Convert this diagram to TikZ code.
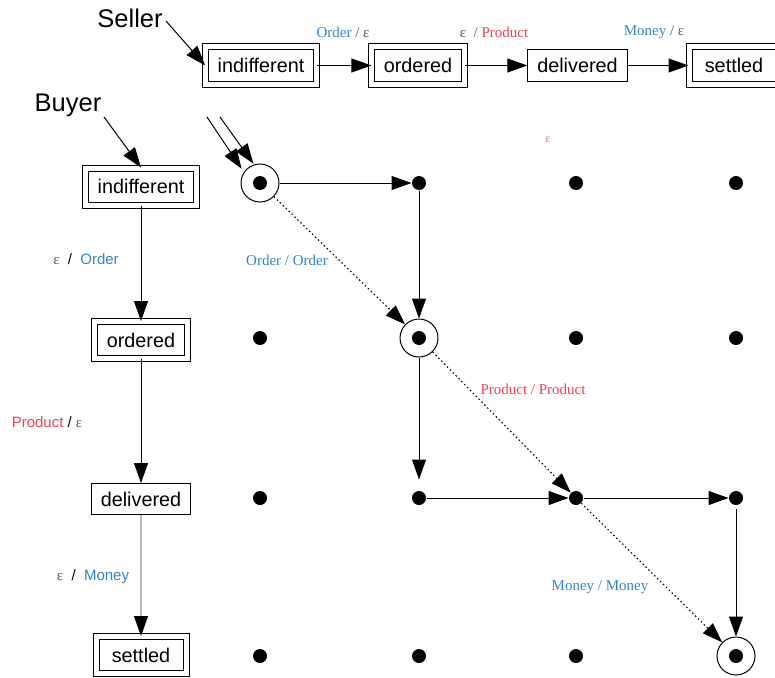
\documentclass[tikz,border=0pt]{standalone}
\usepackage{fontspec}
\setmainfont{Liberation Sans}
\newfontfamily\serifl{Liberation Serif}
\usetikzlibrary{arrows.meta}
\definecolor{lblue}{RGB}{52,132,200}
\definecolor{lred}{RGB}{238,64,80}
\definecolor{lgray}{RGB}{90,90,90}
\definecolor{lpink}{RGB}{236,110,110}
\begin{document}
\begin{tikzpicture}[x=1pt,y=-1pt, line width=1pt,
  >={Triangle[length=20pt,width=14pt]},
  st/.style={draw, font=\fontsize{19.8}{24}\selectfont, inner xsep=9.5pt, inner ysep=0pt, minimum height=31pt},
  dst/.style={st, double, double distance=5pt, inner xsep=12pt, minimum height=37pt},
  dotn/.style={circle, fill=black, inner sep=0pt, minimum size=14pt},
  ring/.style={circle, draw, inner sep=0pt, minimum size=38pt},
  lab/.style={font=\serifl\fontsize{15}{18}\selectfont, inner sep=1pt},
  slab/.style={font=\fontsize{15}{18}\selectfont, inner sep=1pt},
  big/.style={font=\fontsize{25.5}{30}\selectfont, inner sep=0pt},
  dotline/.style={dash pattern=on 1.5pt off 2.6pt, line width=1.1pt},
]
\useasboundingbox (0,0) rectangle (775,677);

% Seller row
\node[dst] (si) at (261,65.5) {indifferent};
\node[dst] (so) at (418,65.5) {ordered};
\node[st]  (sd) at (577.5,65.5) {delivered};
\node[dst, minimum width=90pt] (ss) at (734,65.5) {settled};
\draw[->] (si) -- (so);
\draw[->] (so) -- (sd);
\draw[->] (sd) -- (ss);
\node[lab] (l1) at (343,32) {\textcolor{lblue}{Order} \textcolor{lgray}{/ ε}};
\node[lab] (l2) at (494,32) {\textcolor{lgray}{ε\ \ /} \textcolor{lred}{Product}};
\node[lab] (l3) at (654,32) {\textcolor{lblue}{Money} \textcolor{lgray}{/ ε}};

\node[big] (seller) at (130,18) {Seller};
\coordinate (sa) at (166,21);
\draw[->] (sa) -- (si.west);

% Buyer column
\node[big] (buyer) at (68,105) {Buyer};
\coordinate (ba) at (104,117);
\node[dst] (bi) at (141,186.5) {indifferent};
\node[dst] (bo) at (141,340) {ordered};
\node[st]  (bd) at (141,499) {delivered};
\node[dst, minimum width=90pt] (bs) at (141,655) {settled};
\draw[->] (ba) -- (bi.north);
\draw[->] (bi) -- (bo);
\draw[->] (bo) -- (bd);
\draw[draw=gray!55, line width=1.3pt, -{Triangle[length=20pt,width=14pt,black]}] (bd) -- (bs);
\node[slab] (b1) at (86,259) {\textcolor{lgray}{\serifl ε}\ \ /\ \ \textcolor{lblue}{Order}};
\node[slab] (b2) at (47,422) {\textcolor{lred}{Product} / \textcolor{lgray}{\serifl ε}};
\node[slab] (b3) at (93,577) {\textcolor{lgray}{\serifl ε}\ \ /\ \ \textcolor{lblue}{Money}};

% Grid of product states
\foreach \r/\y in {1/183,2/338,3/498,4/656}{
  \foreach \c/\x in {1/260,2/419,3/576,4/736}{
    \node[dotn] (d\r\c) at (\x,\y) {};
  }
}
\node[ring] (r11) at (260,183) {};
\node[ring] (r22) at (419,338) {};
\node[ring] (r44) at (736,656) {};

\coordinate (e1) at (207,117);
\coordinate (e2) at (220,117);
\draw[->, shorten >=4pt] (e1) -- (r11.146);
\draw[->, shorten >=1pt] (e2) -- (r11.108);

\draw[->] (r11) -- (d12);
\draw[->] (d12) -- (r22);
\draw[->, shorten >=11pt] (r22) -- (d32);
\draw[->] (d32) -- (d33);
\draw[->] (d33) -- (d34);
\draw[->, shorten <=3pt] (d34) -- (r44);

\draw[->, dotline] (r11) -- (r22);
\draw[->, dotline] (r22) -- (d33);
\draw[->, dotline] (d33) -- (r44);

\node[lab] (m1) at (287,260) {\textcolor{lblue}{Order / Order}};
\node[lab] (m2) at (533,389) {\textcolor{lred}{Product / Product}};
\node[lab] (m3) at (600,587) {\textcolor{lblue}{Money / Money}};
\node[lab, font=\serifl\fontsize{12}{14}\selectfont] (eps) at (548,140) {\textcolor{lpink}{ε}};
\end{tikzpicture}
\end{document}
